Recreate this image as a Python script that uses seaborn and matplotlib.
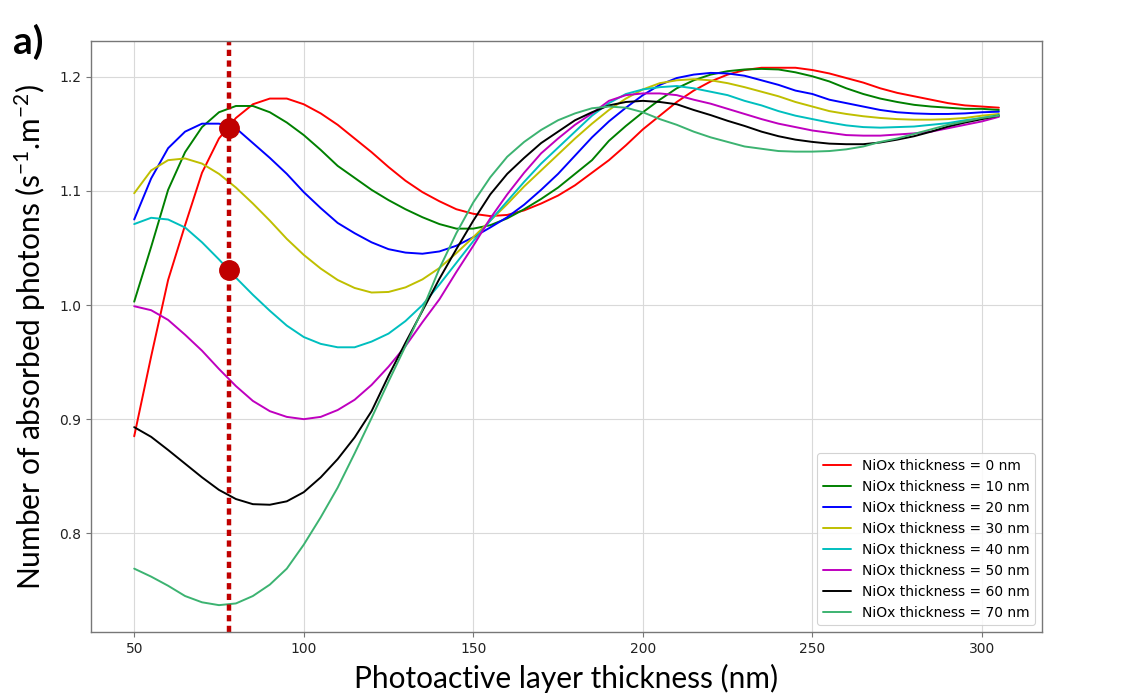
import matplotlib
matplotlib.use("Agg")
import matplotlib.pyplot as plt
import numpy as np
import pandas as pd
import seaborn as sns

# photoactive layer thickness (nm), 50..305 every 5 nm
thickness = list(range(50, 310, 5))

niox_0 = [0.885, 0.955, 1.022, 1.070, 1.116, 1.146, 1.164, 1.176, 1.181, 1.181,
          1.176, 1.168, 1.158, 1.146, 1.134, 1.121, 1.109, 1.099, 1.091, 1.084,
          1.080, 1.078, 1.079, 1.083, 1.089, 1.096, 1.105, 1.116, 1.127, 1.140,
          1.154, 1.166, 1.178, 1.188, 1.196, 1.202, 1.206, 1.208, 1.208, 1.208,
          1.206, 1.203, 1.199, 1.195, 1.190, 1.186, 1.183, 1.180, 1.177, 1.175,
          1.174, 1.173]
niox_10 = [1.003, 1.051, 1.101, 1.134, 1.156, 1.169, 1.1745, 1.1745, 1.169, 1.160,
           1.149, 1.136, 1.122, 1.1115, 1.101, 1.092, 1.084, 1.077, 1.071, 1.067,
           1.067, 1.070, 1.076, 1.084, 1.093, 1.103, 1.115, 1.127, 1.144, 1.157,
           1.169, 1.180, 1.190, 1.197, 1.202, 1.205, 1.2065, 1.207, 1.2065, 1.204,
           1.2005, 1.196, 1.190, 1.185, 1.181, 1.178, 1.1755, 1.174, 1.173, 1.172,
           1.172, 1.171]
niox_20 = [1.075, 1.111, 1.1375, 1.152, 1.159, 1.159, 1.155, 1.142, 1.129, 1.115,
           1.099, 1.085, 1.072, 1.063, 1.055, 1.049, 1.046, 1.045, 1.047, 1.052,
           1.0595, 1.068, 1.077, 1.088, 1.101, 1.115, 1.131, 1.147, 1.161, 1.173,
           1.184, 1.193, 1.199, 1.202, 1.2035, 1.203, 1.201, 1.197, 1.193, 1.188,
           1.185, 1.180, 1.177, 1.174, 1.171, 1.169, 1.168, 1.1675, 1.1675, 1.168,
           1.169, 1.1695]
niox_30 = [1.098, 1.118, 1.127, 1.1285, 1.124, 1.115, 1.103, 1.089, 1.074, 1.058,
           1.044, 1.032, 1.022, 1.015, 1.011, 1.0115, 1.0155, 1.0225, 1.0325, 1.0455,
           1.0595, 1.074, 1.0885, 1.104, 1.118, 1.132, 1.146, 1.159, 1.171, 1.181,
           1.189, 1.1945, 1.197, 1.198, 1.197, 1.1945, 1.191, 1.187, 1.183, 1.178,
           1.174, 1.170, 1.1675, 1.1655, 1.164, 1.163, 1.1625, 1.1625, 1.163, 1.164,
           1.166, 1.1675]
niox_40 = [1.071, 1.0765, 1.075, 1.068, 1.055, 1.040, 1.024, 1.009, 0.995, 0.982,
           0.972, 0.966, 0.963, 0.963, 0.968, 0.975, 0.986, 1.000, 1.018, 1.037,
           1.056, 1.074, 1.091, 1.108, 1.124, 1.138, 1.152, 1.166, 1.177, 1.185,
           1.189, 1.191, 1.192, 1.190, 1.187, 1.184, 1.179, 1.175, 1.170, 1.166,
           1.163, 1.160, 1.1575, 1.156, 1.1555, 1.156, 1.1565, 1.158, 1.1595, 1.162,
           1.164, 1.1665]
niox_50 = [0.999, 0.9955, 0.987, 0.974, 0.960, 0.944, 0.929, 0.916, 0.907, 0.902,
           0.900, 0.902, 0.908, 0.917, 0.930, 0.946, 0.964, 0.985, 1.005, 1.029,
           1.052, 1.076, 1.097, 1.116, 1.133, 1.146, 1.158, 1.168, 1.179, 1.184,
           1.1855, 1.1855, 1.184, 1.180, 1.1765, 1.172, 1.1675, 1.163, 1.159, 1.156,
           1.153, 1.151, 1.149, 1.1485, 1.1485, 1.1495, 1.1505, 1.152, 1.155, 1.158,
           1.161, 1.165]
niox_60 = [0.893, 0.8845, 0.873, 0.861, 0.849, 0.838, 0.830, 0.8255, 0.825, 0.828,
           0.836, 0.849, 0.865, 0.884, 0.907, 0.938, 0.967, 0.995, 1.023, 1.049,
           1.074, 1.097, 1.115, 1.129, 1.142, 1.152, 1.162, 1.169, 1.175, 1.178,
           1.179, 1.178, 1.176, 1.171, 1.1665, 1.1615, 1.157, 1.152, 1.148, 1.145,
           1.143, 1.1415, 1.141, 1.141, 1.1425, 1.145, 1.148, 1.152, 1.1565, 1.160,
           1.163, 1.166]
niox_70 = [0.769, 0.762, 0.754, 0.745, 0.7395, 0.737, 0.7385, 0.745, 0.755, 0.769,
           0.790, 0.814, 0.840, 0.870, 0.901, 0.933, 0.964, 0.996, 1.032, 1.063,
           1.090, 1.112, 1.130, 1.143, 1.1535, 1.162, 1.168, 1.1725, 1.174, 1.173,
           1.169, 1.163, 1.158, 1.152, 1.147, 1.143, 1.139, 1.137, 1.135, 1.1345,
           1.1345, 1.135, 1.1365, 1.139, 1.143, 1.146, 1.150, 1.154, 1.158, 1.161,
           1.164, 1.166]

niox_labels = ["NiOx thickness = 0 nm", "NiOx thickness = 10 nm", "NiOx thickness = 20 nm",
               "NiOx thickness = 30 nm", "NiOx thickness = 40 nm", "NiOx thickness = 50 nm",
               "NiOx thickness = 60 nm", "NiOx thickness = 70 nm"]
series = [niox_0, niox_10, niox_20, niox_30, niox_40, niox_50, niox_60, niox_70]
colors = ["r", "g", "b", "y", "c", "m", "k", "mediumseagreen"]

# highlighted points on the dotted marker line
marker_x = [78, 78]
marker_y = [1.155, 1.031]

rows = []
for lab, vals in zip(niox_labels, series):
    for t, v in zip(thickness, vals):
        rows.append({"thickness": t, "photons": v, "NiOx": lab})
df = pd.DataFrame(rows)

sns.set_style("whitegrid", {"axes.edgecolor": "#777777", "grid.color": "#d9d9d9",
                            "xtick.bottom": True, "ytick.left": True,
                            "text.color": "black", "axes.labelcolor": "black"})
plt.rcParams["font.family"] = ["DejaVu Sans"]
plt.rcParams["mathtext.fontset"] = "custom"
plt.rcParams["mathtext.rm"] = "Lato"
plt.rcParams["mathtext.it"] = "Lato:italic"
plt.rcParams["mathtext.default"] = "regular"

fig = plt.figure(figsize=(11.23, 6.93), dpi=100)
ax = fig.add_axes([0.081, 0.088, 0.847, 0.853])

sns.lineplot(data=df, x="thickness", y="photons", hue="NiOx", palette=colors,
             linewidth=1.4, ax=ax, sort=False)

ax.axvline(marker_x[0], color="#c00000", linewidth=3.2, linestyle=(0, (1.4, 1.0)))
ax.plot(marker_x, marker_y, "o", color="#c00000", markersize=14, zorder=5)

ax.tick_params(labelsize=10, colors="#222222", length=3.5, width=0.8)
ax.tick_params(color="#777777")
for s in ax.spines.values():
    s.set_linewidth(1.0)

ax.set_xlabel("Photoactive layer thickness (nm)", fontsize=21.5, family="Lato",
              color="black", labelpad=6)
ax.set_ylabel("Number of absorbed photons (s$^{-1}$.m$^{-2}$)", fontsize=21.5,
              family="Lato", color="black", labelpad=8)

leg = ax.legend(loc="lower right", fontsize=10, frameon=True, framealpha=0.85,
                edgecolor="#cccccc", handlelength=2.0)
leg.get_frame().set_linewidth(0.8)

fig.text(0.012, 0.922, "a)", fontsize=28, fontweight="bold", family="Lato", color="black")

fig.savefig("out.png", dpi=100)
